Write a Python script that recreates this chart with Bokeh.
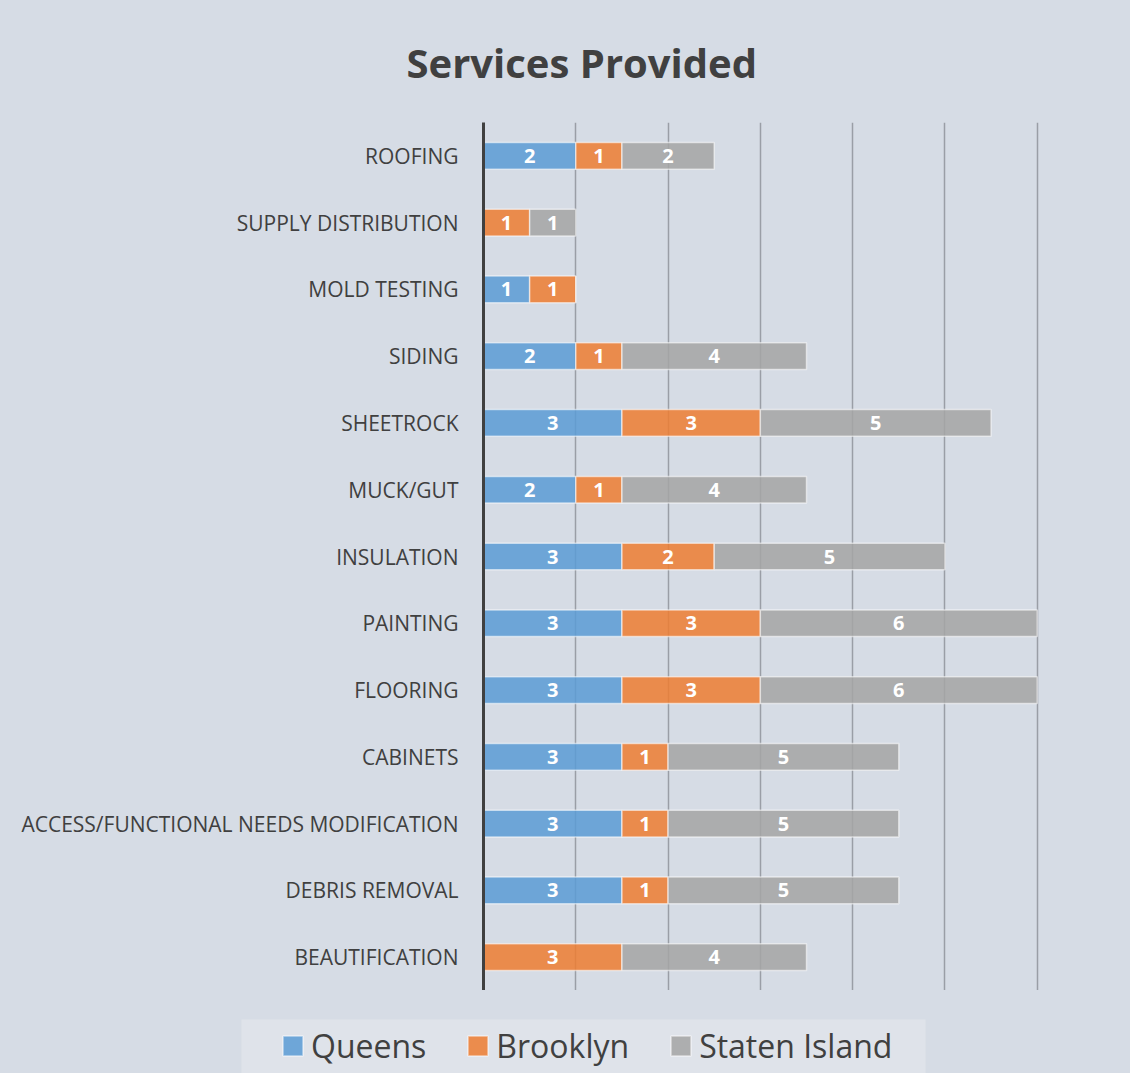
import numpy as np
from bokeh.plotting import figure
from bokeh.layouts import column
from bokeh.models import (ColumnDataSource, FactorRange, Range1d, Legend, LegendItem,
                          SingleIntervalTicker, BoxAnnotation)
from bokeh.embed import file_html
from bokeh.resources import INLINE
from bokeh.core.properties import value

# ---------------- data ----------------
title_text = "Services Provided"
categories = ["ROOFING", "SUPPLY DISTRIBUTION", "MOLD TESTING", "SIDING", "SHEETROCK",
              "MUCK/GUT", "INSULATION", "PAINTING", "FLOORING", "CABINETS",
              "ACCESS/FUNCTIONAL NEEDS MODIFICATION", "DEBRIS REMOVAL", "BEAUTIFICATION"]
series = ["Queens", "Brooklyn", "Staten Island"]
queens = [2, 0, 1, 2, 3, 2, 3, 3, 3, 3, 3, 3, 0]
brooklyn = [1, 1, 1, 1, 3, 1, 2, 3, 3, 1, 1, 1, 3]
staten = [2, 1, 0, 4, 5, 4, 5, 6, 6, 5, 5, 5, 4]
colors = ["#5B9BD5", "#ED7D31", "#A5A5A5"]

BG = "#D6DCE5"
TXT = "#404040"

p = figure(width=1130, height=990,
           y_range=FactorRange(factors=categories[::-1]),
           x_range=Range1d(0, 14),
           output_backend="svg", toolbar_location=None,
           min_border_left=483, min_border_right=1,
           min_border_top=122, min_border_bottom=0)
p.frame_align = False
p.background_fill_color = BG
p.border_fill_color = BG
p.outline_line_color = None

data = {"cat": categories, series[0]: queens, series[1]: brooklyn, series[2]: staten}
src = ColumnDataSource(data)
bar_style = dict(fill_alpha=0.85, line_color="#FFFFFF", line_alpha=0.55, line_width=1.5)
renderers = p.hbar_stack(series, y="cat", height=0.4, source=src, fill_color=colors, **bar_style)

# value labels at segment centres
vals = np.array([queens, brooklyn, staten], dtype=float)
starts = np.vstack([np.zeros(len(categories)), np.cumsum(vals, axis=0)[:-1]])
lx, ly, lt = [], [], []
for si in range(len(series)):
    for ci, c in enumerate(categories):
        v = vals[si, ci]
        if v > 0:
            lx.append(starts[si, ci] + v / 2)
            ly.append(c)
            lt.append(str(int(v)))
lsrc = ColumnDataSource(dict(x=lx, y=ly, t=lt))
p.text(x="x", y="y", text="t", source=lsrc, text_color="white",
       text_font=value("Open Sans"), text_font_style="bold", text_font_size="20px",
       text_align="center", text_baseline="middle")

# axes & grid
p.xaxis.visible = False
p.xgrid.ticker = SingleIntervalTicker(interval=2)
p.xgrid.grid_line_color = "#9A9EA6"
p.xgrid.grid_line_width = 1.5
p.ygrid.grid_line_color = None

ax = p.yaxis[0]
ax.major_label_text_font = "Open Sans"
ax.major_label_text_font_size = "21px"
ax.major_label_text_color = TXT
ax.major_tick_line_color = None
ax.minor_tick_line_color = None
ax.axis_line_color = TXT
ax.axis_line_width = 3
ax.major_label_standoff = 19

# title
p.title.text = title_text
p.title.text_font = "Open Sans"
p.title.text_font_style = "bold"
p.title.text_font_size = "40px"
p.title.text_color = TXT
p.title.align = "left"
p.title.offset = -77
p.title.standoff = 65

# ---------------- legend strip (separate figure, pixel coordinates) ----------------
p2 = figure(width=1130, height=83, x_range=Range1d(0, 1130), y_range=Range1d(0, 83),
            output_backend="svg", toolbar_location=None,
            x_axis_location=None, y_axis_location=None,
            min_border_left=0, min_border_right=0, min_border_top=0, min_border_bottom=0)
p2.frame_align = False
p2.background_fill_color = BG
p2.border_fill_color = BG
p2.outline_line_color = None
p2.xgrid.visible = False
p2.ygrid.visible = False

p2.add_layout(BoxAnnotation(left=241, right=925, bottom=0, top=54,
                            fill_color="#DFE3EA", fill_alpha=1.0, line_color=None))

# legend proxies share the chart's data (categorical y is not shown on this pixel strip)
proxies = p2.hbar_stack(series, y="cat", height=0.4, source=src, fill_color=colors, **bar_style)
legend = Legend(items=[LegendItem(label=s, renderers=[r]) for s, r in zip(series, proxies)],
                orientation="horizontal", location=(280, 6),
                label_text_font="Open Sans", label_text_font_size="32px",
                label_text_color=TXT, glyph_width=25, glyph_height=25,
                label_standoff=6, spacing=39, padding=0, margin=0,
                border_line_color=None, background_fill_alpha=0)
p2.add_layout(legend)

layout = column(p, p2, spacing=0, styles={"background-color": BG})
open("out.html", "w").write(file_html(layout, INLINE))
